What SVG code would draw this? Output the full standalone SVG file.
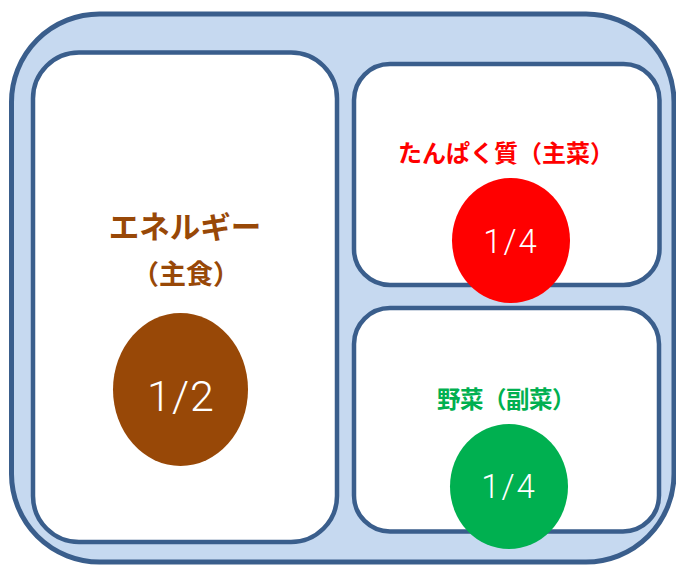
<svg xmlns="http://www.w3.org/2000/svg" width="676" height="565" viewBox="0 0 676 565">
<style>
.box{fill:#ffffff;stroke:#3A5E8C;stroke-width:4.5}
.tray{fill:#C6D9F0;stroke:#3A5E8C;stroke-width:5}
.lbl{font-family:"Noto Sans CJK JP","Noto Sans",sans-serif;font-weight:700;text-anchor:middle}
.num{font-family:Roboto,"Noto Sans",sans-serif;font-weight:300;fill:#ffffff;text-anchor:middle}
</style>
<g id="tray"><rect class="tray" x="11.5" y="14" width="662.5" height="548" rx="88" ry="88"/></g>
<g id="staple">
<rect class="box" x="33" y="52.5" width="304" height="489.5" rx="46" ry="46"/>
<text class="lbl" x="185" y="238" font-size="30.5" fill="#984807">エネルギー</text>
<text class="lbl" x="186" y="284" font-size="27" fill="#984807">（主食）</text>
<ellipse cx="180.5" cy="389.5" rx="67.5" ry="76.5" fill="#984807"/>
<text class="num" x="181" y="411" font-size="43" letter-spacing="1">1/2</text>
</g>
<g id="main">
<rect class="box" x="354" y="64" width="305.5" height="221" rx="36" ry="36"/>
<text class="lbl" x="506" y="162" font-size="24" fill="#FF0000">たんぱく質（主菜）</text>
<ellipse cx="511" cy="240.5" rx="59" ry="62.5" fill="#FF0000"/>
<text class="num" x="511" y="253" font-size="33" letter-spacing="2">1/4</text>
</g>
<g id="side">
<rect class="box" x="354" y="308" width="305" height="223.5" rx="36" ry="36"/>
<text class="lbl" x="506" y="408" font-size="23.5" fill="#00B050" letter-spacing="-0.5">野菜（副菜）</text>
<ellipse cx="509" cy="486.5" rx="59" ry="62.5" fill="#00B050"/>
<text class="num" x="509" y="498" font-size="33" letter-spacing="2">1/4</text>
</g>
<g id="connectors"/>
</svg>
